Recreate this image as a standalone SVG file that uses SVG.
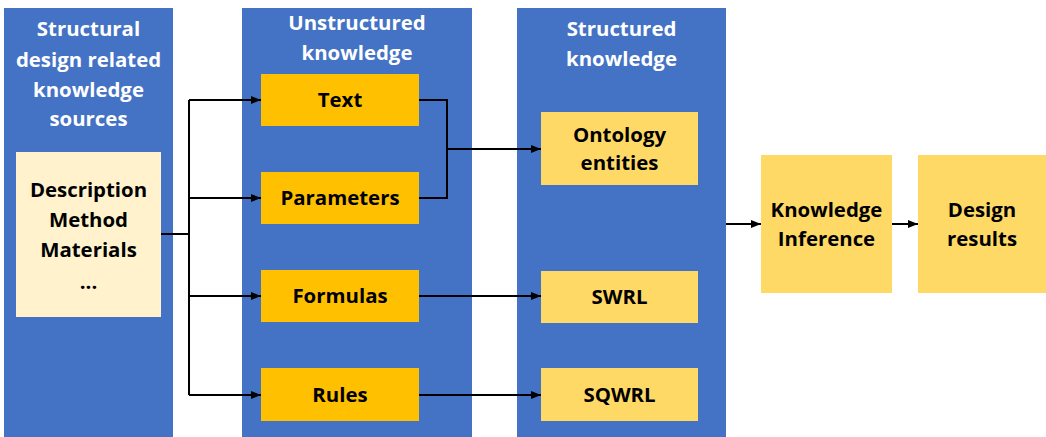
<svg xmlns="http://www.w3.org/2000/svg" width="1046" height="437" viewBox="0 0 1046 437">
<style>
.col{fill:#4472C4}
.org{fill:#FFC000}
.yel{fill:#FFD966}
.crm{fill:#FFF2CC}
.ttl{font-family:"Open Sans","Liberation Sans",sans-serif;font-weight:700;font-size:20.4px;fill:#FFFFFF;text-anchor:middle}
.lbl{font-family:"Open Sans","Liberation Sans",sans-serif;font-weight:700;font-size:20.4px;fill:#000000;text-anchor:middle}
.ln{fill:none;stroke:#000000;stroke-width:2}
</style>
<defs>
<marker id="ah" markerWidth="10" markerHeight="8" refX="10" refY="4" orient="auto" markerUnits="userSpaceOnUse">
<path d="M0,0 L10,4 L0,8 Z" fill="#000000"/>
</marker>
</defs>
<rect width="1046" height="437" fill="#FFFFFF"/>
<g id="col-sources">
<rect class="col" x="4" y="8" width="169" height="429"/>
<text class="ttl" x="88.5" y="36">Structural</text>
<text class="ttl" x="88.5" y="67">design related</text>
<text class="ttl" x="88.5" y="97">knowledge</text>
<text class="ttl" x="88.5" y="126">sources</text>
</g>
<g id="sources-box">
<rect class="crm" x="16" y="152" width="145" height="165"/>
<text class="lbl" x="88.5" y="197">Description</text>
<text class="lbl" x="88.5" y="227">Method</text>
<text class="lbl" x="88.5" y="257">Materials</text>
<text class="lbl" x="88.5" y="289">...</text>
</g>
<g id="col-unstructured">
<rect class="col" x="242" y="8" width="230" height="429"/>
<text class="ttl" x="357" y="30">Unstructured</text>
<text class="ttl" x="357" y="60">knowledge</text>
</g>
<g id="text-node">
<rect class="org" x="261" y="74" width="158" height="52"/>
<text class="lbl" x="340" y="107">Text</text>
</g>
<g id="parameters-node">
<rect class="org" x="261" y="172" width="158" height="52"/>
<text class="lbl" x="340" y="205">Parameters</text>
</g>
<g id="formulas-node">
<rect class="org" x="261" y="270" width="158" height="52"/>
<text class="lbl" x="340" y="303">Formulas</text>
</g>
<g id="rules-node">
<rect class="org" x="261" y="368" width="158" height="53"/>
<text class="lbl" x="340" y="402">Rules</text>
</g>
<g id="col-structured">
<rect class="col" x="517" y="8" width="209" height="429"/>
<text class="ttl" x="621.5" y="36">Structured</text>
<text class="ttl" x="621.5" y="66">knowledge</text>
</g>
<g id="ontology-node">
<rect class="yel" x="541" y="112" width="157" height="73"/>
<text class="lbl" x="619.5" y="142">Ontology</text>
<text class="lbl" x="619.5" y="170">entities</text>
</g>
<g id="swrl-node">
<rect class="yel" x="541" y="271" width="157" height="52"/>
<text class="lbl" x="619.5" y="304">SWRL</text>
</g>
<g id="sqwrl-node">
<rect class="yel" x="541" y="368" width="157" height="53"/>
<text class="lbl" x="619.5" y="402">SQWRL</text>
</g>
<g id="inference-node">
<rect class="yel" x="761" y="155" width="131" height="138"/>
<text class="lbl" x="826.5" y="217">Knowledge</text>
<text class="lbl" x="826.5" y="246">Inference</text>
</g>
<g id="results-node">
<rect class="yel" x="918" y="155" width="128" height="138"/>
<text class="lbl" x="982" y="217">Design</text>
<text class="lbl" x="982" y="246">results</text>
</g>
<g id="connectors">
<path class="ln" d="M161,234 H189"/>
<path class="ln" d="M189,100 V395"/>
<path class="ln" d="M189,100 H261" marker-end="url(#ah)"/>
<path class="ln" d="M189,198 H261" marker-end="url(#ah)"/>
<path class="ln" d="M189,296 H261" marker-end="url(#ah)"/>
<path class="ln" d="M189,395 H261" marker-end="url(#ah)"/>
<path class="ln" d="M419,100 H447 V198 H419"/>
<path class="ln" d="M447,149 H541" marker-end="url(#ah)"/>
<path class="ln" d="M419,296 H541" marker-end="url(#ah)"/>
<path class="ln" d="M419,395 H541" marker-end="url(#ah)"/>
<path class="ln" d="M726,224 H761" marker-end="url(#ah)"/>
<path class="ln" d="M892,224 H918" marker-end="url(#ah)"/>
</g>
</svg>
